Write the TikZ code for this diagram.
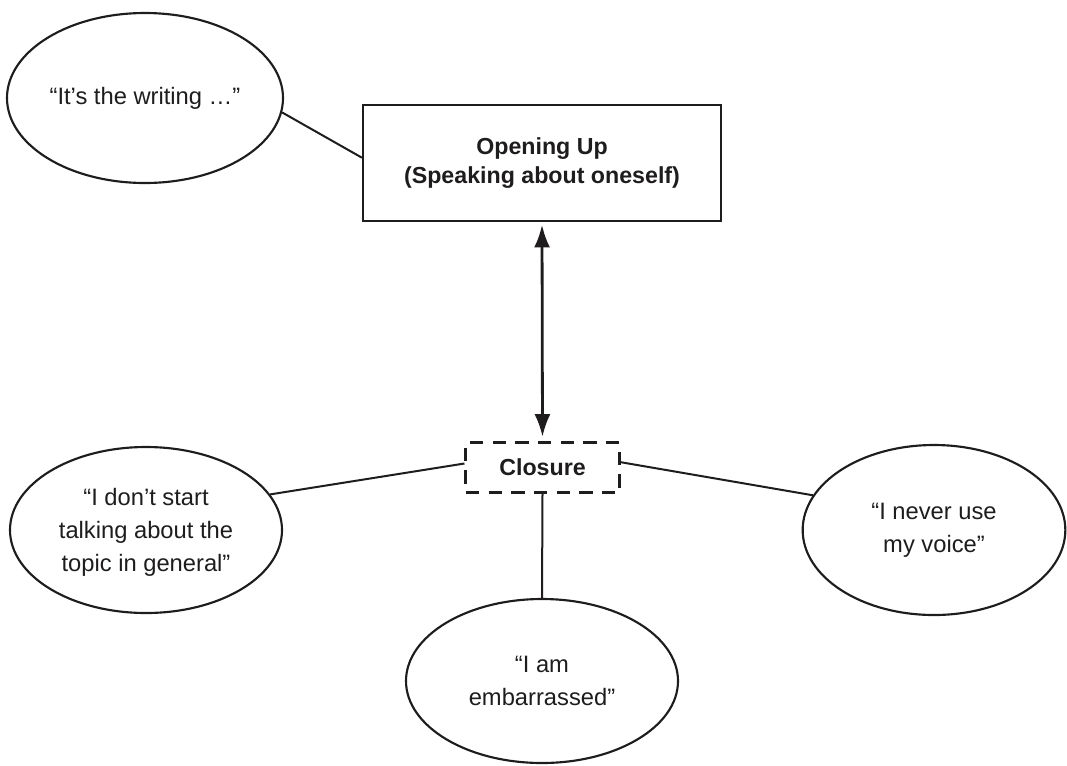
\documentclass[tikz,border=0pt]{standalone}
\usepackage{fontspec}
\setmainfont{Liberation Sans}
\usepackage{xcolor}
\usepackage{tikz}
\usetikzlibrary{shapes.geometric, arrows.meta}

\definecolor{inkgray}{RGB}{30,28,29}

\tikzset{
  quote/.style={ellipse, draw=inkgray, line width=1.6pt, inner sep=0pt, align=center,
    text=inkgray, font=\fontsize{17.8}{24.5}\selectfont},
  phase/.style={draw=inkgray, line width=1.7pt, inner sep=0pt, align=center,
    text=inkgray, font=\fontsize{17.4}{22}\selectfont\bfseries},
  link/.style={draw=inkgray, line width=1.5pt}
}

\begin{document}
\begin{tikzpicture}[x=0.75pt,y=0.75pt,yscale=-1,xscale=1]
\useasboundingbox (0,0) rectangle (1067,765); %set diagram to the page size

% Box: Opening Up
\node [phase, minimum width=268.5pt, minimum height=87pt] (open) at (542,163) {Opening Up\\(Speaking about oneself)};
% Box: Closure
\node [phase, dash pattern=on 10pt off 7pt, line width=2.1pt, minimum width=115pt, minimum height=38pt] (clos) at (542.5,467.5) {Closure};

% Ellipses
\node [quote, minimum width=207pt, minimum height=127.5pt] (writing) at (145,98) {``It’s the writing \dots''};
\node [quote, minimum width=204pt, minimum height=124.5pt, text depth=-6pt] (start) at (146,530) {``I don’t start\\talking about the\\topic in general''};
\node [quote, minimum width=197pt, minimum height=127.5pt] (voice) at (934,530) {``I never use\\my voice''};
\node [quote, minimum width=204pt, minimum height=123pt] (embar) at (542,681) {``I am\\embarrassed''};

% Connections
\draw [link] (writing.-6) -- ([yshift=-4pt]open.west);
\draw [link] ([yshift=-3pt]clos.west) -- (start.16);
\draw [link] ([yshift=-4pt]clos.east) -- (voice.164);
\draw [link] (clos.south) -- (embar.north);
\draw [draw=inkgray, line width=2.1pt, {Latex[length=17pt,width=12pt]}-{Latex[length=17pt,width=12pt]}, shorten <=2pt, shorten >=3pt] (open.south) -- (clos.north);

\end{tikzpicture}
\end{document}
